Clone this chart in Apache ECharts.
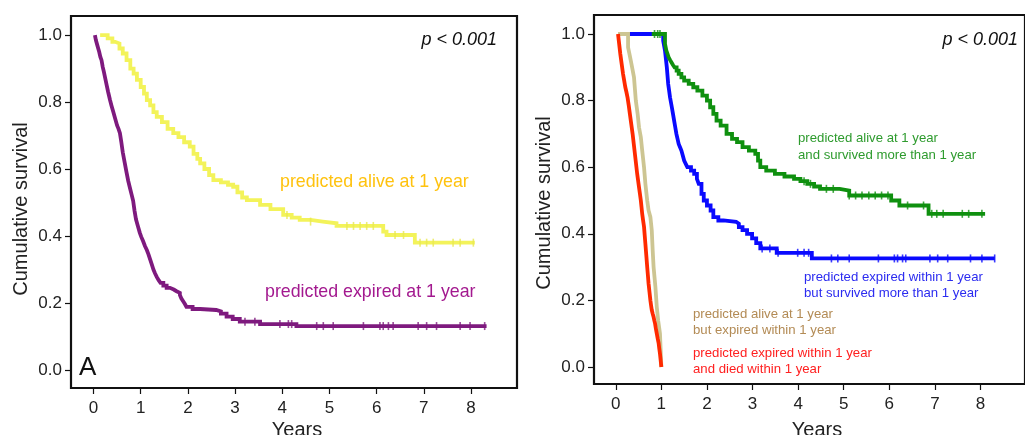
<!DOCTYPE html>
<html><head><meta charset="utf-8">
<script src="https://cdn.jsdelivr.net/npm/echarts@6/dist/echarts.min.js"></script>
<style>html,body{margin:0;padding:0;background:#fff}#c{width:1025px;height:435px}</style>
</head><body><div id="c"></div>
<script>
// ---------- Data ----------
const xTicks = [0,1,2,3,4,5,6,7,8];
const yTicks = [0,0.2,0.4,0.6,0.8,1.0];

// Panel A
const aliveT = [0.14,0.30,0.40,0.46,0.55,0.62,0.70,0.78,0.85,0.92,1.00,1.07,1.13,1.20,1.27,1.34,1.45,1.57,1.69,1.80,1.92,2.04,2.12,2.20,2.26,2.35,2.45,2.54,2.70,2.85,2.96,3.05,3.15,3.25,3.53,3.75,4.02,4.20,4.37,4.60,4.86,5.15,6.14,6.21,6.81,8.08];
const aliveS = [1.00,0.99,0.98,0.975,0.96,0.945,0.925,0.90,0.885,0.866,0.845,0.825,0.806,0.79,0.77,0.756,0.74,0.72,0.707,0.695,0.68,0.667,0.645,0.63,0.617,0.60,0.582,0.567,0.56,0.553,0.547,0.53,0.515,0.507,0.493,0.48,0.463,0.455,0.448,0.443,0.438,0.43,0.413,0.403,0.38,0.38];
const aliveCensor = [4.10,4.60,5.37,5.51,5.65,5.79,5.93,6.39,6.57,6.92,7.06,7.20,7.62,7.77,8.05];

const expiredT = [0.03,0.05,0.08,0.10,0.12,0.145,0.17,0.195,0.22,0.25,0.28,0.31,0.35,0.38,0.42,0.46,0.50,0.53,0.56,0.59,0.62,0.66,0.70,0.735,0.77,0.805,0.84,0.87,0.90,0.94,0.98,1.01,1.05,1.09,1.13,1.165,1.20,1.235,1.27,1.305,1.34,1.38,1.42,1.48,1.55,1.62,1.70,1.76,1.83,1.86,1.90,1.94,1.97,2.10,2.26,2.60,2.70,2.82,2.95,3.10,3.53,4.30,8.33];
const expiredS = [1.00,0.985,0.97,0.96,0.95,0.935,0.925,0.905,0.89,0.87,0.85,0.83,0.806,0.79,0.77,0.75,0.73,0.72,0.707,0.68,0.65,0.62,0.59,0.565,0.545,0.525,0.505,0.475,0.45,0.43,0.41,0.398,0.385,0.37,0.358,0.345,0.33,0.315,0.30,0.288,0.278,0.268,0.26,0.252,0.245,0.24,0.235,0.23,0.224,0.214,0.205,0.196,0.188,0.182,0.179,0.175,0.168,0.159,0.152,0.144,0.137,0.131,0.131];
const expiredCensor = [3.21,3.42,3.95,4.13,4.20,4.73,4.87,5.08,5.72,6.07,6.14,6.25,6.35,6.88,7.06,7.27,7.77,7.98,8.29];

// Panel B
const aliveSurvT = [0.79,1.08,1.11,1.135,1.16,1.19,1.22,1.255,1.29,1.335,1.38,1.44,1.50,1.60,1.70,1.79,1.90,2.00,2.07,2.14,2.21,2.30,2.43,2.55,2.66,2.78,2.92,3.06,3.12,3.17,3.30,3.49,3.70,3.91,4.05,4.20,4.35,4.48,4.91,5.12,6.04,6.22,6.86,8.10];
const aliveSurvS = [1.00,0.97,0.95,0.94,0.93,0.922,0.915,0.907,0.90,0.89,0.88,0.87,0.86,0.85,0.84,0.83,0.815,0.80,0.78,0.76,0.74,0.725,0.70,0.685,0.675,0.66,0.65,0.64,0.62,0.60,0.59,0.58,0.572,0.565,0.558,0.55,0.542,0.535,0.53,0.515,0.50,0.485,0.46,0.46];
const aliveSurvCensor = [0.85,0.92,0.97,4.13,4.27,4.62,4.77,5.12,5.26,5.40,5.55,5.69,5.83,5.97,6.40,6.75,6.93,7.04,7.18,7.60,7.74,8.03];

const expSurvT = [0.30,1.04,1.06,1.08,1.10,1.12,1.135,1.15,1.17,1.19,1.21,1.23,1.255,1.28,1.305,1.33,1.355,1.38,1.41,1.44,1.47,1.50,1.535,1.57,1.65,1.72,1.78,1.82,1.88,1.93,2.00,2.08,2.14,2.25,2.36,2.64,2.70,2.78,2.88,2.99,3.08,3.17,3.53,4.30,8.31];
const expSurvS = [1.00,0.98,0.965,0.95,0.925,0.90,0.875,0.85,0.83,0.81,0.795,0.78,0.76,0.74,0.72,0.70,0.685,0.67,0.66,0.65,0.635,0.62,0.61,0.60,0.59,0.58,0.565,0.55,0.52,0.50,0.485,0.47,0.45,0.44,0.436,0.43,0.42,0.411,0.40,0.386,0.372,0.356,0.343,0.326,0.326];
const expSurvCensor = [3.21,3.38,3.56,3.99,4.13,4.23,4.73,4.87,5.12,5.76,6.11,6.18,6.29,6.36,6.89,7.06,7.28,7.78,8.03,8.31];

const aliveDiedT = [0.05,0.27,0.30,0.33,0.365,0.40,0.42,0.44,0.46,0.48,0.495,0.51,0.53,0.55,0.565,0.58,0.60,0.62,0.635,0.65,0.67,0.69,0.705,0.72,0.74,0.76,0.775,0.79,0.80,0.81,0.82,0.83,0.85,0.87,0.885,0.90,0.915,0.93,0.95,0.97,0.985,1.00];
const aliveDiedS = [1.00,0.96,0.94,0.92,0.895,0.87,0.835,0.80,0.78,0.76,0.74,0.72,0.705,0.69,0.67,0.65,0.625,0.60,0.575,0.55,0.525,0.50,0.485,0.47,0.46,0.45,0.43,0.41,0.38,0.35,0.325,0.30,0.27,0.24,0.21,0.18,0.16,0.14,0.12,0.10,0.05,0.00];

const expDiedT = [0.05,0.075,0.10,0.13,0.16,0.185,0.21,0.235,0.26,0.285,0.31,0.34,0.37,0.395,0.42,0.445,0.47,0.49,0.51,0.53,0.55,0.565,0.58,0.60,0.62,0.635,0.65,0.67,0.69,0.705,0.72,0.74,0.76,0.775,0.79,0.81,0.83,0.845,0.86,0.88,0.90,0.92,0.94,0.955,0.97,0.985,1.00];
const expDiedS = [1.00,0.97,0.94,0.91,0.88,0.86,0.84,0.825,0.808,0.785,0.76,0.73,0.70,0.67,0.64,0.61,0.58,0.56,0.54,0.52,0.50,0.48,0.46,0.44,0.421,0.395,0.37,0.335,0.30,0.275,0.25,0.225,0.20,0.185,0.171,0.16,0.15,0.14,0.132,0.115,0.10,0.085,0.072,0.055,0.04,0.02,0.00];

// ---------- helpers ----------
const FONT = 'Liberation Sans, Arial, Helvetica, sans-serif';
function pairs(t, s){ return t.map((v,i)=>[v, s[i]]); }
function stepAt(t, s, x){ let v = s[0]; for (let i=0;i<t.length;i++){ if (t[i] <= x) v = s[i]; } return v; }
function censorPts(t, s, c){ return c.map(x => [x, stepAt(t, s, x)]); }

function km(name, t, s, color, idx, z){
  return {name, type:'line', step:'end', xAxisIndex:idx, yAxisIndex:idx, data:pairs(t,s),
    showSymbol:false, symbol:'none', lineStyle:{color, width:3.8, join:'miter'}, z, silent:true, animation:false};
}
function cens(name, t, s, c, color, idx, z){
  return {name:name+' censored', type:'scatter', xAxisIndex:idx, yAxisIndex:idx, data:censorPts(t,s,c),
    symbol:'rect', symbolSize:[1.6,8], itemStyle:{color}, z, silent:true, animation:false};
}

function xAxis(idx){
  return {type:'value', gridIndex:idx, min:-0.477, max:8.975, position:'bottom',
    axisLine:{show:false, onZero:false}, splitLine:{show:false},
    axisTick:{show:true, inside:false, length:6, customValues:xTicks, lineStyle:{color:'#111', width:1.2}},
    axisLabel:{customValues:xTicks, margin:12, fontSize:17, color:'#222', fontFamily:FONT}};
}
function yAxis(idx, min){
  return {type:'value', gridIndex:idx, min:min, max:1.057, position:'left',
    axisLine:{show:false, onZero:false}, splitLine:{show:false},
    axisTick:{show:true, inside:false, length:6, customValues:yTicks, lineStyle:{color:'#111', width:1.2}},
    axisLabel:{customValues:yTicks, margin:9, fontSize:17, color:'#222', fontFamily:FONT,
      formatter:v=>Number(v).toFixed(1)}};
}
function txt(x, y, text, color, size, opts, rot){
  return {type:'text', x, y, rotation:rot||0, silent:true,
    style:Object.assign({text, fill:color, font:size+'px '+FONT, textVerticalAlign:'middle'}, opts||{})};
}

const chart = echarts.init(document.getElementById('c'), null, {renderer:'canvas'});
chart.setOption({
  animation:false,
  backgroundColor:'#fff',
  grid:[
    {left:71, top:16, width:446, height:372, show:true, borderColor:'#111', borderWidth:2.2, backgroundColor:'transparent'},
    {left:594, top:15, width:444, height:369, show:true, borderColor:'#111', borderWidth:2.2, backgroundColor:'transparent'}
  ],
  xAxis:[xAxis(0), xAxis(1)],
  yAxis:[yAxis(0,-0.054), yAxis(1,-0.051)],
  series:[
    km('predicted alive at 1 year', aliveT, aliveS, '#f3f35a', 0, 3),
    cens('predicted alive at 1 year', aliveT, aliveS, aliveCensor, '#e8e850', 0, 4),
    km('predicted expired at 1 year', expiredT, expiredS, '#7e1a7e', 0, 5),
    cens('predicted expired at 1 year', expiredT, expiredS, expiredCensor, '#7e1a7e', 0, 6),

    km('predicted expired within 1 year but survived more than 1 year', expSurvT, expSurvS, '#0a0aff', 1, 3),
    cens('predicted expired within 1 year but survived more than 1 year', expSurvT, expSurvS, expSurvCensor, '#0a0aff', 1, 4),
    km('predicted alive at 1 year and survived more than 1 year', aliveSurvT, aliveSurvS, '#0f900f', 1, 5),
    cens('predicted alive at 1 year and survived more than 1 year', aliveSurvT, aliveSurvS, aliveSurvCensor, '#0f900f', 1, 6),
    km('predicted alive at 1 year but expired within 1 year', aliveDiedT, aliveDiedS, '#cdc592', 1, 7),
    km('predicted expired within 1 year and died within 1 year', expDiedT, expDiedS, '#ff2a00', 1, 8)
  ],
  graphic:[
    txt(21, 209, 'Cumulative survival', '#222', 20, {align:'center'}, Math.PI/2),
    txt(544, 203, 'Cumulative survival', '#222', 20, {align:'center'}, Math.PI/2),
    txt(297, 430, 'Years', '#222', 20, {align:'center'}),
    txt(817, 430, 'Years', '#222', 20, {align:'center'}),
    txt(497, 40, 'p < 0.001', '#111', 18, {align:'right', font:'italic 18px '+FONT}),
    txt(1018, 40, 'p < 0.001', '#111', 18, {align:'right', font:'italic 18px '+FONT}),
    txt(79, 368, 'A', '#111', 26),
    txt(280, 182, 'predicted alive at 1 year', '#ffc20e', 17.8),
    txt(265, 292, 'predicted expired at 1 year', '#a3198f', 17.8),
    txt(798, 138, 'predicted alive at 1 year', '#2e9b2e', 13.2),
    txt(798, 155, 'and survived more than 1 year', '#2e9b2e', 13.2),
    txt(804, 277, 'predicted expired within 1 year', '#2b2bf0', 13.2),
    txt(804, 293, 'but survived more than 1 year', '#2b2bf0', 13.2),
    txt(693, 314, 'predicted alive at 1 year', '#b38b55', 13.2),
    txt(693, 330, 'but expired within 1 year', '#b38b55', 13.2),
    txt(693, 353, 'predicted expired within 1 year', '#ff2020', 13.2),
    txt(693, 369, 'and died within 1 year', '#ff2020', 13.2)
  ]
});
</script></body></html>
